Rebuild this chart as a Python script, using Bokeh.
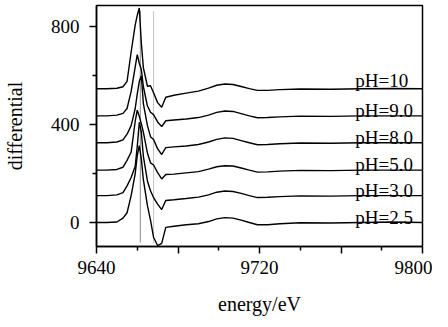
from bokeh.plotting import figure
from bokeh.models import FixedTicker, Range1d
from bokeh.embed import file_html
from bokeh.resources import INLINE
from bokeh.core.properties import value

energy = [9640, 9645, 9650, 9653, 9655, 9657, 9659, 9660, 9661, 9662, 9663, 9665,
          9666.5, 9668, 9670, 9672, 9674, 9678, 9684, 9690, 9695, 9699, 9703, 9707,
          9711, 9715, 9719, 9724, 9730, 9740, 9755, 9770, 9785, 9800]

ph10 = [547, 547, 549, 555, 577, 697, 808, 847, 877, 735, 633, 557, 559, 530, 490, 471,
        512, 520, 529, 537, 549, 561, 566, 564, 556, 547, 540, 540, 543, 546, 545, 547, 548, 547]
ph90 = [436, 436, 439, 446, 466, 536, 636, 686, 651, 626, 556, 476, 451, 441, 411, 392,
        416, 419, 423, 429, 439, 450, 456, 454, 445, 436, 428, 429, 432, 435, 434, 436, 436, 436]
ph80 = [326, 326, 329, 338, 361, 396, 466, 526, 576, 600, 486, 396, 351, 339, 301, 278,
        306, 309, 313, 319, 329, 340, 346, 344, 335, 326, 318, 319, 322, 325, 324, 326, 326, 326]
ph50 = [214, 214, 217, 226, 254, 288, 414, 459, 434, 404, 369, 284, 244, 235, 204, 178,
        196, 198, 203, 208, 218, 228, 232, 231, 223, 214, 206, 207, 210, 213, 212, 214, 214, 214]
ph30 = [110, 110, 113, 122, 150, 184, 230, 310, 410, 370, 270, 170, 130, 102, 75, 53,
        90, 93, 98, 104, 113, 124, 129, 127, 119, 110, 102, 103, 106, 109, 108, 110, 110, 110]
ph25 = [0, 0, 2, 18, 40, 110, 200, 273, 314, 260, 175, 69, 10, -60, -94, -85,
        -20, -15, -9, -5, 4, 15, 20, 18, 10, 0, -9, -9, -5, -1, -2, 0, 2, 0]

series = [ph10, ph90, ph80, ph50, ph30, ph25]
labels = ["pH=10", "pH=9.0", "pH=8.0", "pH=5.0", "pH=3.0", "pH=2.5"]
label_x = [9767, 9767, 9767, 9767, 9767, 9767]
label_y = [580, 456, 348, 236, 132, 22]

ref_energy = [9661.5, 9668]
ref_bottom = [-82, -82]
ref_top = [866, 866]

x_major = [9640, 9680, 9720, 9760, 9800]
x_minor = [9660, 9700, 9740, 9780]
y_major = [0, 400, 800]
y_minor = [200, 600]

FONT = "Liberation Serif"

p = figure(width=432, height=319, output_backend="svg", toolbar_location=None,
           x_range=Range1d(9640, 9800), y_range=Range1d(-98, 887),
           min_border_left=89, min_border_right=10, min_border_top=5, min_border_bottom=73)

p.xgrid.visible = False
p.ygrid.visible = False
p.background_fill_color = "white"
p.border_fill_color = "white"
p.outline_line_color = "black"
p.outline_line_width = 1.5

# reference lines
p.segment(x0=[ref_energy[0]], y0=[ref_bottom[0]], x1=[ref_energy[0]], y1=[ref_top[0]],
          line_color="#8a8a8a", line_width=1)
p.segment(x0=[ref_energy[1]], y0=[ref_bottom[1]], x1=[ref_energy[1]], y1=[ref_top[1]],
          line_color="#8a8a8a", line_width=1, line_dash="1 1")

for s in series:
    p.line(energy, s, line_color="black", line_width=1.4)

p.text(x=label_x, y=label_y, text=labels, text_font=value(FONT), text_font_size="19px",
       text_align="left", text_baseline="alphabetic", text_color="black")

p.xaxis.ticker = FixedTicker(ticks=x_major, minor_ticks=x_minor)
p.xaxis.major_label_overrides = {9680: "", 9760: ""}
p.yaxis.ticker = FixedTicker(ticks=y_major, minor_ticks=y_minor)

for ax in (p.xaxis[0], p.yaxis[0]):
    ax.axis_line_color = "black"
    ax.axis_line_width = 1.5
    ax.major_tick_line_color = "black"
    ax.major_tick_line_width = 1.5
    ax.minor_tick_line_color = "black"
    ax.minor_tick_line_width = 1.5
    ax.major_tick_in = 0
    ax.major_tick_out = 7
    ax.minor_tick_in = 0
    ax.minor_tick_out = 4
    ax.major_label_text_font = FONT
    ax.major_label_text_font_size = "19px"
    ax.major_label_text_color = "black"
    ax.axis_label_text_font = FONT
    ax.axis_label_text_font_size = "20px"
    ax.axis_label_text_font_style = "normal"
    ax.axis_label_text_color = "black"

p.xaxis.major_label_standoff = 7
p.xaxis.axis_label_standoff = 16
p.yaxis.major_label_standoff = 10
p.yaxis.axis_label_standoff = 22
p.xaxis.axis_label = "energy/eV"
p.yaxis.axis_label = "differential"

open("out.html", "w").write(file_html(p, INLINE))
